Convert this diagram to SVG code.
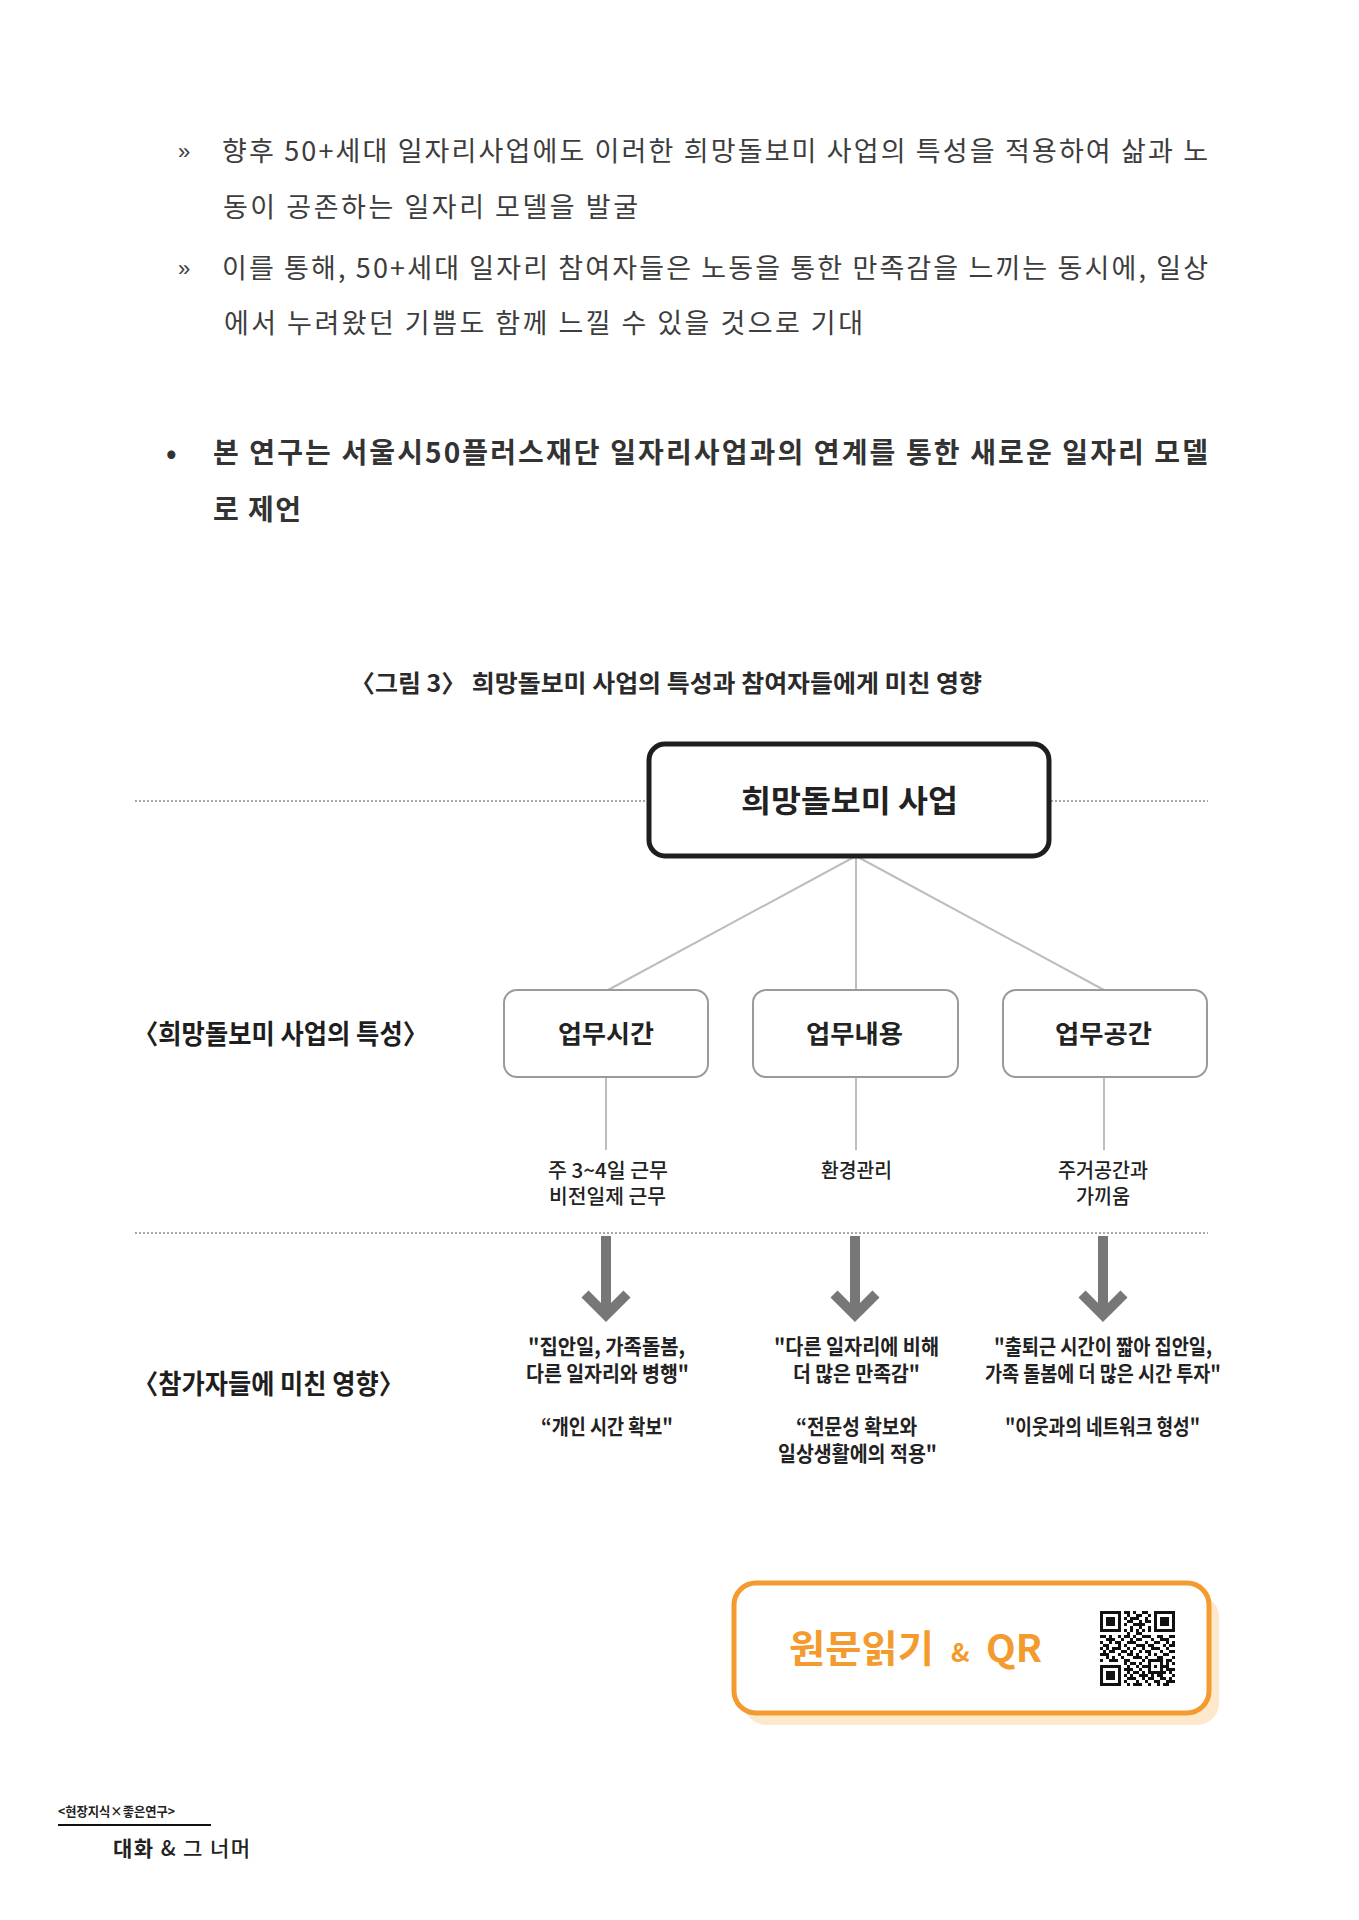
<svg xmlns="http://www.w3.org/2000/svg" width="1359" height="1920" viewBox="0 0 1359 1920">
<style>
text{font-family:'Noto Sans CJK KR','Noto Sans',sans-serif}
.body{font-size:27px;fill:#3d3d3d;font-weight:400}
.bul{font-family:'Liberation Sans',sans-serif;font-size:22px;fill:#3d3d3d}
.bold{font-size:28px;font-weight:700;fill:#333}
.cap{font-size:24px;font-weight:700;fill:#2a2a2a}
.lbl{font-size:27px;font-weight:700;fill:#1e1e1e}
.box{fill:#fff;stroke:#9a9a9a;stroke-width:2}
.btxt{font-size:25px;font-weight:700;fill:#222}
.feat{font-size:20px;font-weight:500;fill:#222}
.quo{font-size:21px;font-weight:700;fill:#222}
.dot{stroke:#8a8a8a;stroke-width:1.5;stroke-dasharray:2 2;fill:none}
.con{stroke:#bdbdbd;stroke-width:2;fill:none}
.arr{stroke:#777;stroke-width:10;fill:none;stroke-linejoin:miter;stroke-miterlimit:10}
.or{fill:#f39b2e;font-weight:700}
</style>
<rect width="1359" height="1920" fill="#fff"/>

<g id="bodytext">
<text class="bul" x="178" y="159">»</text>
<text class="body" x="222" y="161" textLength="986" lengthAdjust="spacing">향후 50+세대 일자리사업에도 이러한 희망돌보미 사업의 특성을 적용하여 삶과 노</text>
<text class="body" x="223" y="217" textLength="415" lengthAdjust="spacing">동이 공존하는 일자리 모델을 발굴</text>
<text class="bul" x="178" y="276">»</text>
<text class="body" x="222" y="278" textLength="986" lengthAdjust="spacing">이를 통해, 50+세대 일자리 참여자들은 노동을 통한 만족감을 느끼는 동시에, 일상</text>
<text class="body" x="224" y="333" textLength="639" lengthAdjust="spacing">에서 누려왔던 기쁨도 함께 느낄 수 있을 것으로 기대</text>
<text class="bold" x="166" y="463">•</text>
<text class="bold" x="213" y="463" textLength="995" lengthAdjust="spacing">본 연구는 서울시50플러스재단 일자리사업과의 연계를 통한 새로운 일자리 모델</text>
<text class="bold" x="213" y="520" textLength="88" lengthAdjust="spacing">로 제언</text>
</g>

<g id="caption">
<text class="cap" x="350" y="692" textLength="632" lengthAdjust="spacingAndGlyphs">〈그림 3〉 희망돌보미 사업의 특성과 참여자들에게 미친 영향</text>
</g>

<g id="guides">
<line class="dot" x1="135" y1="801" x2="647" y2="801"/>
<line class="dot" x1="1051" y1="801" x2="1208" y2="801"/>
<line class="dot" x1="135" y1="1233" x2="1208" y2="1233"/>
</g>

<g id="connectors">
<line class="con" x1="856" y1="856" x2="608" y2="990"/>
<line class="con" x1="856" y1="856" x2="856" y2="990"/>
<line class="con" x1="856" y1="856" x2="1104" y2="990"/>
<line class="con" x1="606" y1="1077" x2="606" y2="1150"/>
<line class="con" x1="856" y1="1077" x2="856" y2="1150"/>
<line class="con" x1="1104" y1="1077" x2="1104" y2="1150"/>
<g id="arrows">
<line class="arr" x1="606" y1="1236" x2="606" y2="1312"/>
<polyline class="arr" points="585,1294 606,1315 627,1294"/>
<line class="arr" x1="855" y1="1236" x2="855" y2="1312"/>
<polyline class="arr" points="834,1294 855,1315 876,1294"/>
<line class="arr" x1="1103" y1="1236" x2="1103" y2="1312"/>
<polyline class="arr" points="1082,1294 1103,1315 1124,1294"/>
</g>
</g>

<g id="node-main">
<rect x="649" y="744" width="400" height="112" rx="16" fill="#fff" stroke="#1e1e1e" stroke-width="5"/>
<text x="741" y="812" font-size="31" font-weight="700" fill="#222" textLength="217" lengthAdjust="spacingAndGlyphs">희망돌보미 사업</text>
</g>

<g id="label-features">
<text class="lbl" x="133" y="1044" textLength="295" lengthAdjust="spacingAndGlyphs">〈희망돌보미 사업의 특성〉</text>
</g>
<g id="label-effects">
<text class="lbl" x="133" y="1394" textLength="271" lengthAdjust="spacingAndGlyphs">〈참가자들에 미친 영향〉</text>
</g>

<g id="node-time">
<rect class="box" x="504" y="990" width="204" height="87" rx="13"/>
<text class="btxt" x="558" y="1043" textLength="96" lengthAdjust="spacingAndGlyphs">업무시간</text>
</g>
<g id="node-content">
<rect class="box" x="753" y="990" width="205" height="87" rx="13"/>
<text class="btxt" x="806" y="1043" textLength="97" lengthAdjust="spacingAndGlyphs">업무내용</text>
</g>
<g id="node-space">
<rect class="box" x="1003" y="990" width="204" height="87" rx="13"/>
<text class="btxt" x="1055" y="1043" textLength="97" lengthAdjust="spacingAndGlyphs">업무공간</text>
</g>

<g id="feat-time">
<text class="feat" x="548" y="1178" textLength="120" lengthAdjust="spacingAndGlyphs">주 3~4일 근무</text>
<text class="feat" x="549" y="1204" textLength="117" lengthAdjust="spacingAndGlyphs">비전일제 근무</text>
</g>
<g id="feat-content">
<text class="feat" x="821" y="1178" textLength="71" lengthAdjust="spacingAndGlyphs">환경관리</text>
</g>
<g id="feat-space">
<text class="feat" x="1058" y="1178" textLength="90" lengthAdjust="spacingAndGlyphs">주거공간과</text>
<text class="feat" x="1076" y="1204" textLength="54" lengthAdjust="spacingAndGlyphs">가끼움</text>
</g>

<g id="effect-time">
<text class="quo" x="528" y="1354" textLength="157" lengthAdjust="spacingAndGlyphs">"집안일, 가족돌봄,</text>
<text class="quo" x="526" y="1381" textLength="163" lengthAdjust="spacingAndGlyphs">다른 일자리와 병행"</text>
<text class="quo" x="541" y="1434" textLength="132" lengthAdjust="spacingAndGlyphs">“개인 시간 확보"</text>
</g>
<g id="effect-content">
<text class="quo" x="774" y="1354" textLength="165" lengthAdjust="spacingAndGlyphs">"다른 일자리에 비해</text>
<text class="quo" x="793" y="1381" textLength="127" lengthAdjust="spacingAndGlyphs">더 많은 만족감"</text>
<text class="quo" x="796" y="1434" textLength="121" lengthAdjust="spacingAndGlyphs">“전문성 확보와</text>
<text class="quo" x="778" y="1461" textLength="159" lengthAdjust="spacingAndGlyphs">일상생활에의 적용"</text>
</g>
<g id="effect-space">
<text class="quo" x="994" y="1354" textLength="218" lengthAdjust="spacingAndGlyphs">"출퇴근 시간이 짧아 집안일,</text>
<text class="quo" x="985" y="1381" textLength="236" lengthAdjust="spacingAndGlyphs">가족 돌봄에 더 많은 시간 투자"</text>
<text class="quo" x="1005" y="1434" textLength="195" lengthAdjust="spacingAndGlyphs">"이웃과의 네트워크 형성"</text>
</g>

<g id="qr-button">
<rect x="744" y="1595" width="475" height="130" rx="22" fill="#fde8cc"/>
<rect x="734" y="1583" width="475" height="130" rx="22" fill="#fff" stroke="#f39b2e" stroke-width="5"/>
<text class="or" x="789" y="1662" font-size="38" textLength="145" lengthAdjust="spacingAndGlyphs">원문읽기</text>
<text class="or" x="951" y="1662" font-size="25">&amp;</text>
<text class="or" x="986" y="1662" font-size="38" textLength="56" lengthAdjust="spacingAndGlyphs">QR</text>
<g id="qr" fill="#111">
<rect x="1100" y="1611" width="21" height="21"/><rect x="1103" y="1614" width="15" height="15" fill="#fff"/><rect x="1106" y="1617" width="9" height="9"/>
<rect x="1154" y="1611" width="21" height="21"/><rect x="1157" y="1614" width="15" height="15" fill="#fff"/><rect x="1160" y="1617" width="9" height="9"/>
<rect x="1100" y="1665" width="21" height="21"/><rect x="1103" y="1668" width="15" height="15" fill="#fff"/><rect x="1106" y="1671" width="9" height="9"/>
<rect x="1148" y="1659" width="15" height="15"/><rect x="1151" y="1662" width="9" height="9" fill="#fff"/><rect x="1154" y="1665" width="3" height="3"/>
<path d="M1124 1611h6v3h-6zM1133 1611h3v3h-3zM1142 1611h6v3h-6z
M1127 1614h3v3h-3zM1136 1614h6v3h-6zM1148 1614h3v3h-3z
M1124 1617h3v3h-3zM1130 1617h9v3h-9zM1145 1617h3v3h-3z
M1127 1620h6v3h-6zM1139 1620h3v3h-3zM1145 1620h6v3h-6z
M1124 1623h3v3h-3zM1133 1623h12v3h-12z
M1130 1626h3v3h-3zM1139 1626h3v3h-3zM1148 1626h3v3h-3z
M1124 1629h3v3h-3zM1130 1629h3v3h-3zM1136 1629h3v3h-3zM1142 1629h3v3h-3zM1148 1629h3v3h-3z
M1127 1632h3v3h-3zM1136 1632h6v3h-6z
M1100 1635h6v3h-6zM1109 1635h3v3h-3zM1118 1635h3v3h-3zM1124 1635h6v3h-6zM1133 1635h3v3h-3zM1142 1635h9v3h-9zM1157 1635h6v3h-6zM1169 1635h6v3h-6z
M1106 1638h9v3h-9zM1121 1638h3v3h-3zM1130 1638h3v3h-3zM1136 1638h6v3h-6zM1151 1638h3v3h-3zM1160 1638h9v3h-9z
M1100 1641h3v3h-3zM1109 1641h3v3h-3zM1115 1641h6v3h-6zM1127 1641h9v3h-9zM1145 1641h3v3h-3zM1154 1641h6v3h-6zM1166 1641h3v3h-3zM1172 1641h3v3h-3z
M1103 1644h6v3h-6zM1118 1644h3v3h-3zM1124 1644h3v3h-3zM1136 1644h9v3h-9zM1148 1644h6v3h-6zM1163 1644h3v3h-3zM1169 1644h6v3h-6z
M1100 1647h3v3h-3zM1106 1647h3v3h-3zM1112 1647h9v3h-9zM1127 1647h3v3h-3zM1133 1647h3v3h-3zM1142 1647h3v3h-3zM1151 1647h9v3h-9zM1166 1647h3v3h-3z
M1103 1650h3v3h-3zM1109 1650h6v3h-6zM1121 1650h6v3h-6zM1130 1650h3v3h-3zM1139 1650h3v3h-3zM1145 1650h6v3h-6zM1160 1650h3v3h-3zM1169 1650h6v3h-6z
M1100 1653h9v3h-9zM1118 1653h3v3h-3zM1127 1653h6v3h-6zM1136 1653h3v3h-3zM1148 1653h3v3h-3zM1154 1653h3v3h-3zM1163 1653h6v3h-6z
M1106 1656h3v3h-3zM1112 1656h3v3h-3zM1121 1656h3v3h-3zM1133 1656h9v3h-9zM1145 1656h3v3h-3zM1157 1656h6v3h-6zM1172 1656h3v3h-3z
M1100 1659h3v3h-3zM1109 1659h9v3h-9zM1124 1659h6v3h-6zM1142 1659h3v3h-3zM1166 1659h6v3h-6z
M1124 1662h3v3h-3zM1130 1662h6v3h-6zM1139 1662h3v3h-3zM1166 1662h3v3h-3zM1172 1662h3v3h-3z
M1127 1665h3v3h-3zM1136 1665h3v3h-3zM1142 1665h6v3h-6zM1163 1665h6v3h-6z
M1124 1668h9v3h-9zM1139 1668h3v3h-3zM1166 1668h9v3h-9z
M1127 1671h3v3h-3zM1133 1671h6v3h-6zM1142 1671h3v3h-3zM1163 1671h3v3h-3zM1169 1671h3v3h-3z
M1124 1674h3v3h-3zM1130 1674h3v3h-3zM1139 1674h9v3h-9zM1151 1674h3v3h-3zM1157 1674h6v3h-6zM1172 1674h3v3h-3z
M1127 1677h9v3h-9zM1142 1677h3v3h-3zM1148 1677h6v3h-6zM1160 1677h6v3h-6zM1169 1677h3v3h-3z
M1124 1680h3v3h-3zM1136 1680h3v3h-3zM1145 1680h3v3h-3zM1154 1680h6v3h-6zM1166 1680h9v3h-9z
M1127 1683h3v3h-3zM1133 1683h9v3h-9zM1148 1683h3v3h-3zM1157 1683h3v3h-3zM1163 1683h6v3h-6z"/>
</g>
</g>

<g id="footer">
<text x="58" y="1816" font-size="13" font-weight="700" fill="#222" textLength="117" lengthAdjust="spacingAndGlyphs">&lt;현장지식×좋은연구&gt;</text>
<line x1="58" y1="1825" x2="211" y2="1825" stroke="#111" stroke-width="2"/>
<text x="113" y="1856" font-size="21" fill="#222" textLength="137" lengthAdjust="spacing"><tspan font-weight="700">대화</tspan><tspan font-weight="500"> &amp; 그 너머</tspan></text>
</g>
</svg>
